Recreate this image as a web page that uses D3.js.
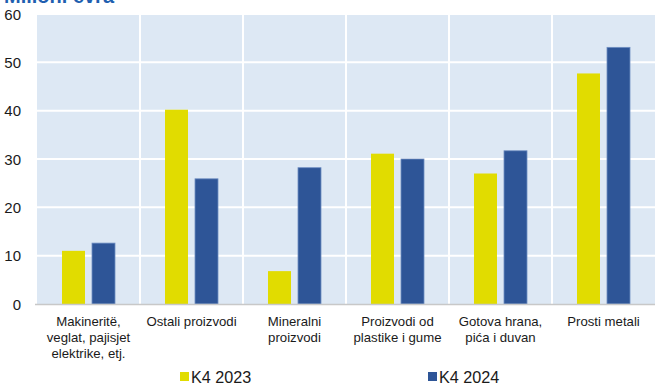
<!DOCTYPE html>
<html><head><meta charset="utf-8">
<script src="https://cdn.jsdelivr.net/npm/d3@7"></script>
<style>body{margin:0;background:#fff}svg{display:block;font-family:"Liberation Sans",Arial,sans-serif}</style>
</head><body><svg id="c" width="655" height="385"></svg>
<script>
const categories = [["Makineritë,","veglat, pajisjet","elektrike, etj."],["Ostali proizvodi"],["Mineralni","proizvodi"],["Proizvodi od","plastike i gume"],["Gotova hrana,","pića i duvan"],["Prosti metali"]];
const series2023 = [11.0, 40.2, 6.8, 31.1, 27.0, 47.7];
const series2024 = [12.6, 25.9, 28.2, 30.0, 31.7, 53.1];
const seriesNames = ["K4 2023","K4 2024"];
const yTicks = [0,10,20,30,40,50,60];
const colors = ["#e1dc00","#2e5597"];

const svg = d3.select("#c");
const m = {l:37, r:0, t:14, b:81};
const W = 655, H = 385;
const x = d3.scaleBand().domain(d3.range(categories.length)).range([m.l, W-m.r]);
const y = d3.scaleLinear().domain([0,60]).range([H-m.b, m.t]);

svg.append("text").attr("x",4).attr("y",3).attr("fill","#1f5fb0").attr("font-size",20).attr("font-weight","bold").text("Milioni evra");

svg.append("rect").attr("x",m.l).attr("y",m.t).attr("width",W-m.l-m.r).attr("height",y(0)-m.t).attr("fill","#dde8f4");
svg.append("g").selectAll("line").data(yTicks.slice(1)).join("line")
  .attr("x1",m.l).attr("x2",W).attr("y1",d=>y(d)).attr("y2",d=>y(d)).attr("stroke","#fff").attr("stroke-width",2);
svg.append("g").selectAll("line").data(d3.range(1,categories.length)).join("line")
  .attr("x1",d=>x(d)).attr("x2",d=>x(d)).attr("y1",m.t).attr("y2",y(0)).attr("stroke","#fff").attr("stroke-width",2);

const bw = 23, gap = 7;
const data = [series2023, series2024];
data.forEach((s,si)=>{
  svg.append("g").selectAll("rect").data(s).join("rect")
    .attr("x",(d,i)=>x(i)+x.bandwidth()/2 - bw - gap/2 + si*(bw+gap))
    .attr("y",d=>y(d)).attr("width",bw).attr("height",d=>y(0)-y(d))
    .attr("fill",colors[si])
    .attr("stroke", si===1 ? "#6f8ec2" : "none").attr("stroke-width",0.8);
});

svg.append("line").attr("x1",m.l-2).attr("x2",W).attr("y1",y(0)+0.5).attr("y2",y(0)+0.5).attr("stroke","#c8c8c8").attr("stroke-width",1.5);

const yAxis = d3.axisLeft(y).tickValues(yTicks).tickSize(0).tickPadding(0);
const ga = svg.append("g").attr("transform",`translate(${m.l-16},0)`).call(yAxis);
ga.select(".domain").remove();
ga.selectAll("text").attr("font-size",15).attr("fill","#1a1a1a").attr("font-family","Liberation Sans, Arial, sans-serif").attr("dy","0.35em");

const lab = svg.append("g");
categories.forEach((lines,i)=>{
  const t = lab.append("text").attr("x",x(i)+x.bandwidth()/2).attr("y",326).attr("text-anchor","middle").attr("font-size",13.2).attr("fill","#1a1a1a");
  lines.forEach((l,j)=>t.append("tspan").attr("x",x(i)+x.bandwidth()/2).attr("dy", j===0?0:16).text(l));
});

const legX = [180, 428];
seriesNames.forEach((n,i)=>{
  svg.append("rect").attr("x",legX[i]).attr("y",372).attr("width",9).attr("height",9).attr("fill",colors[i]);
  svg.append("text").attr("x",legX[i]+11).attr("y",383).attr("font-size",16.2).attr("fill","#1a1a1a").text(n);
});
</script></body></html>
